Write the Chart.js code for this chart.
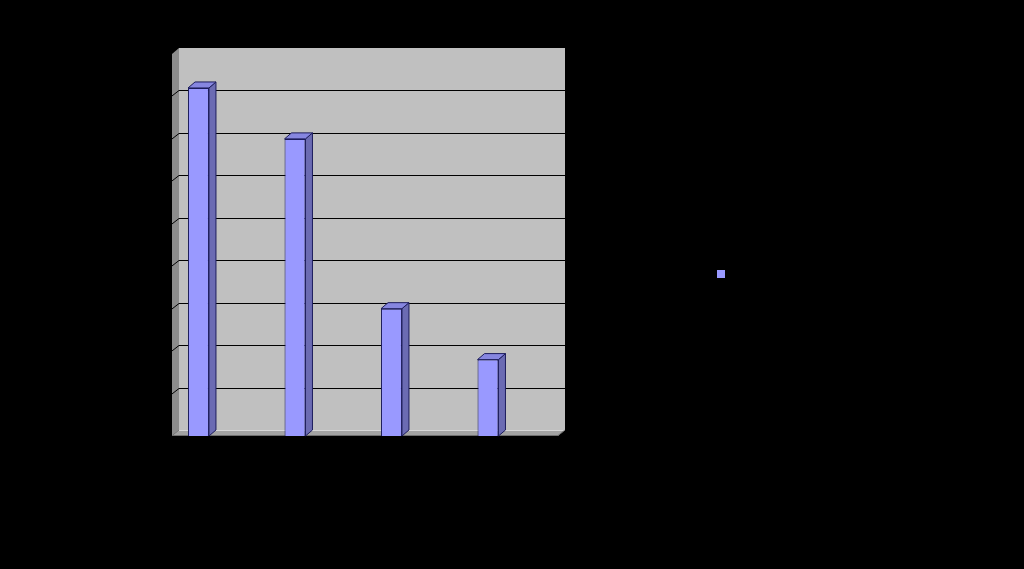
<!DOCTYPE html>
<html>
<head>
<meta charset="utf-8">
<title>Chart</title>
<script src="https://cdn.jsdelivr.net/npm/chart.js@4.4.1/dist/chart.umd.min.js"></script>
<style>
    html, body { margin: 0; padding: 0; background: #000; }
    canvas { display: block; }
</style>
</head>
<body>
<canvas id="myChart" width="1024" height="569"></canvas>
<script>
const categories = ['1', '2', '3', '4'];
const seriesName = 'Ряд1';
const seriesValues = [8.2, 7, 3, 1.8];
const yTicks = [0, 1, 2, 3, 4, 5, 6, 7, 8, 9];

const depthX = 7; // сдвиг задней стенки вправо
const depthY = 6; // и вверх

// рисуем стенки, пол и сетку как в объёмной диаграмме
const wallsPlugin = {
    id: 'walls',
    beforeDatasetsDraw(chart) {
        const {ctx, chartArea, scales} = chart;
        const left = chartArea.left;
        const right = chartArea.right;
        const top = chartArea.top;
        const bottom = chartArea.bottom;

        ctx.save();
        // задняя стенка
        ctx.fillStyle = '#c0c0c0';
        ctx.fillRect(left + depthX, top - depthY, right - left, bottom - top);

        // левая стенка
        ctx.fillStyle = '#8c8c8c';
        ctx.beginPath();
        ctx.moveTo(left, top);
        ctx.lineTo(left + depthX, top - depthY);
        ctx.lineTo(left + depthX, bottom - depthY);
        ctx.lineTo(left, bottom);
        ctx.closePath();
        ctx.fill();

        // пол
        ctx.fillStyle = '#a3a3a3';
        ctx.beginPath();
        ctx.moveTo(left, bottom);
        ctx.lineTo(left + depthX, bottom - depthY);
        ctx.lineTo(right + depthX, bottom - depthY);
        ctx.lineTo(right, bottom);
        ctx.closePath();
        ctx.fill();
        ctx.strokeStyle = '#d8d8d8';
        ctx.lineWidth = 1;
        ctx.beginPath();
        ctx.moveTo(left + depthX, bottom - depthY + 0.5);
        ctx.lineTo(right + depthX, bottom - depthY + 0.5);
        ctx.stroke();
        ctx.strokeStyle = '#707070';
        ctx.beginPath();
        ctx.moveTo(left, bottom - 0.5);
        ctx.lineTo(right, bottom - 0.5);
        ctx.lineTo(right + depthX, bottom - depthY);
        ctx.stroke();

        // линии сетки
        ctx.strokeStyle = '#000';
        ctx.lineWidth = 1;
        yTicks.forEach(v => {
            if (v === 0 || v === yTicks[yTicks.length - 1]) return;
            const y = Math.round(scales.y.getPixelForValue(v) - depthY) + 0.5;
            ctx.beginPath();
            ctx.moveTo(left - 2, y + depthY + 1);
            ctx.lineTo(left + depthX, y);
            ctx.lineTo(right + depthX, y);
            ctx.stroke();
        });
        ctx.restore();
    },
    afterDatasetsDraw(chart) {
        const {ctx} = chart;
        const meta = chart.getDatasetMeta(0);
        ctx.save();
        ctx.lineWidth = 1;
        ctx.strokeStyle = '#1c1c5c';
        meta.data.forEach(bar => {
            const props = bar.getProps(['x', 'y', 'base', 'width'], true);
            const l = props.x - props.width / 2;
            const r = props.x + props.width / 2;
            const t = props.y;
            const b = props.base;

            // боковая грань
            ctx.fillStyle = '#6b6bb3';
            ctx.beginPath();
            ctx.moveTo(r, t);
            ctx.lineTo(r + depthX, t - depthY);
            ctx.lineTo(r + depthX, b - depthY);
            ctx.lineTo(r, b);
            ctx.closePath();
            ctx.fill();
            ctx.stroke();

            // верхняя грань
            ctx.fillStyle = '#8686e0';
            ctx.beginPath();
            ctx.moveTo(l, t);
            ctx.lineTo(l + depthX, t - depthY);
            ctx.lineTo(r + depthX, t - depthY);
            ctx.lineTo(r, t);
            ctx.closePath();
            ctx.fill();
            ctx.stroke();
        });
        ctx.restore();
    }
};

Chart.defaults.color = '#000';
Chart.defaults.font.family = 'Arial, "Liberation Sans", sans-serif';
Chart.defaults.font.size = 12;

const ctx = document.getElementById('myChart').getContext('2d');

new Chart(ctx, {
    type: 'bar',
    data: {
        labels: categories,
        datasets: [{
            label: seriesName,
            data: seriesValues,
            backgroundColor: '#9999ff',
            borderColor: '#1c1c5c',
            borderWidth: 1
        }, {
            // пустой ряд, чтобы столбцы стояли левее центра категории
            label: '',
            data: categories.map(() => null),
            backgroundColor: 'rgba(0,0,0,0)'
        }]
    },
    options: {
        responsive: false,
        animation: false,
        categoryPercentage: 0.902,
        barPercentage: 0.481,
        layout: {
            padding: {left: 0, top: 54, right: 266, bottom: 75}
        },
        plugins: {
            legend: {
                position: 'right',
                maxWidth: 200,
                labels: {
                    boxWidth: 8,
                    boxHeight: 8,
                    padding: 159,
                    color: '#000',
                    filter: item => item.datasetIndex === 0,
                    generateLabels: chart => Chart.defaults.plugins.legend.labels.generateLabels(chart)
                        .map(item => ({...item, strokeStyle: '#9999ff', lineWidth: 0}))
                }
            },
            tooltip: {enabled: false}
        },
        scales: {
            x: {
                grid: {display: false},
                border: {display: false},
                ticks: {color: '#000'},
                afterFit: scale => { scale.height = 58; }
            },
            y: {
                min: 0,
                max: 9,
                grid: {display: false},
                border: {display: false},
                ticks: {stepSize: 1, color: '#000'},
                afterFit: scale => { scale.width = 172; }
            }
        }
    },
    plugins: [wallsPlugin]
});
</script>
</body>
</html>
